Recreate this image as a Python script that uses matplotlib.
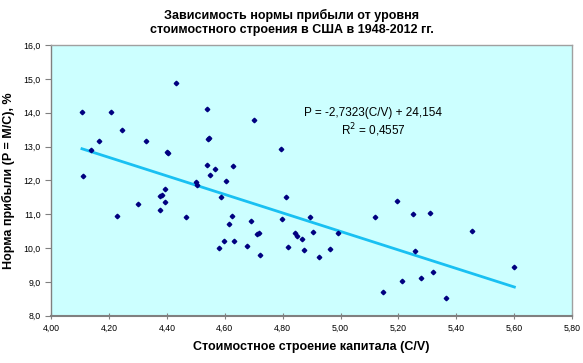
import numpy as np
import matplotlib
matplotlib.use("Agg")
from matplotlib import pyplot as plt
from matplotlib.ticker import FuncFormatter, MultipleLocator

plt.rcParams['font.family'] = ['Liberation Sans', 'DejaVu Sans']

# стоимостное строение капитала (C/V) и норма прибыли, 1948-2012
cv = [4.430, 4.106, 4.208, 4.246, 4.166, 4.327, 4.137, 4.399, 4.109, 4.394,
      4.375, 4.383, 4.392, 4.300, 4.375, 4.226, 4.464, 4.539, 4.701, 4.545,
      4.541, 4.795, 4.537, 4.566, 4.627, 4.549, 4.502, 4.503, 4.603, 4.587,
      4.813, 4.624, 4.614, 4.689, 4.798, 4.710, 4.718, 4.598, 4.631, 4.580,
      4.678, 4.722, 4.817, 4.893, 5.194, 5.119, 4.844, 4.851, 4.866, 4.905,
      4.992, 4.872, 4.963, 4.925, 5.214, 5.146, 5.250, 5.309, 5.453, 5.259,
      5.278, 5.320, 5.364, 5.601, 4.402]
profit = [14.88, 14.03, 14.03, 13.49, 13.16, 13.16, 12.90, 12.83, 12.13, 11.74,
          11.54, 11.56, 11.36, 11.29, 11.14, 10.96, 10.92, 14.11, 13.77, 13.26,
          13.22, 12.94, 12.46, 12.33, 12.42, 12.16, 11.96, 11.86, 11.98, 11.51,
          11.52, 10.96, 10.71, 10.81, 10.87, 10.42, 10.45, 10.20, 10.20, 9.99,
          10.06, 9.79, 10.03, 10.92, 11.38, 10.92, 10.44, 10.35, 10.28, 10.48,
          10.44, 9.94, 9.98, 9.73, 9.02, 8.70, 11.01, 11.03, 10.50, 9.92,
          9.12, 9.30, 8.52, 9.43, 12.80]

# линия тренда из подписи на графике
slope = -2.7323
intercept = 24.154

fig = plt.figure(figsize=(5.83, 3.63), dpi=100)
ax = fig.add_axes([0.088, 0.130, 0.893, 0.746])
ax.set_facecolor('#CCFFFF')

x_line = np.array([min(cv), max(cv)])
ax.plot(x_line, slope * x_line + intercept, color='#19C0F2', lw=2, zorder=2)
ax.plot(cv, profit, linestyle='none', marker='D', ms=2.3, color='#000080', zorder=3)

ax.set_xlim(4.0, 5.8)
ax.set_ylim(8.0, 16.0)
ax.xaxis.set_major_locator(MultipleLocator(0.2))
ax.yaxis.set_major_locator(MultipleLocator(1.0))
ax.xaxis.set_major_formatter(FuncFormatter(lambda v, p: f"{v:.2f}".replace('.', ',')))
ax.yaxis.set_major_formatter(FuncFormatter(lambda v, p: f"{v:.1f}".replace('.', ',')))
ax.tick_params(labelsize=6.3, length=4, color='#808080')
ax.tick_params(axis='y', direction='out')
ax.tick_params(axis='x', direction='inout')

for s in ax.spines.values():
    s.set_color('#A0A0A0')
    s.set_linewidth(1)
ax.spines['left'].set_color('#808080')
ax.spines['bottom'].set_color('#808080')
ax.spines['bottom'].set_linewidth(1.5)

ax.set_xlabel('Стоимостное строение капитала (C/V)', fontsize=9, fontweight='bold', labelpad=6)
ax.set_ylabel('Норма прибыли (P = M/C), %', fontsize=9, fontweight='bold', labelpad=6)

fig.suptitle('Зависимость нормы прибыли от уровня\nстоимостного строения в США в 1948-2012 гг.',
             fontsize=9, fontweight='bold', y=0.975)

ax.text(4.875, 13.99, 'P = -2,7323(C/V) + 24,154', fontsize=8.5, va='center', ha='left')
ax.text(5.0, 13.49, 'R$^2$ = 0,4557', fontsize=8.5, va='center', ha='left')

fig.savefig('out.png', dpi=100)
